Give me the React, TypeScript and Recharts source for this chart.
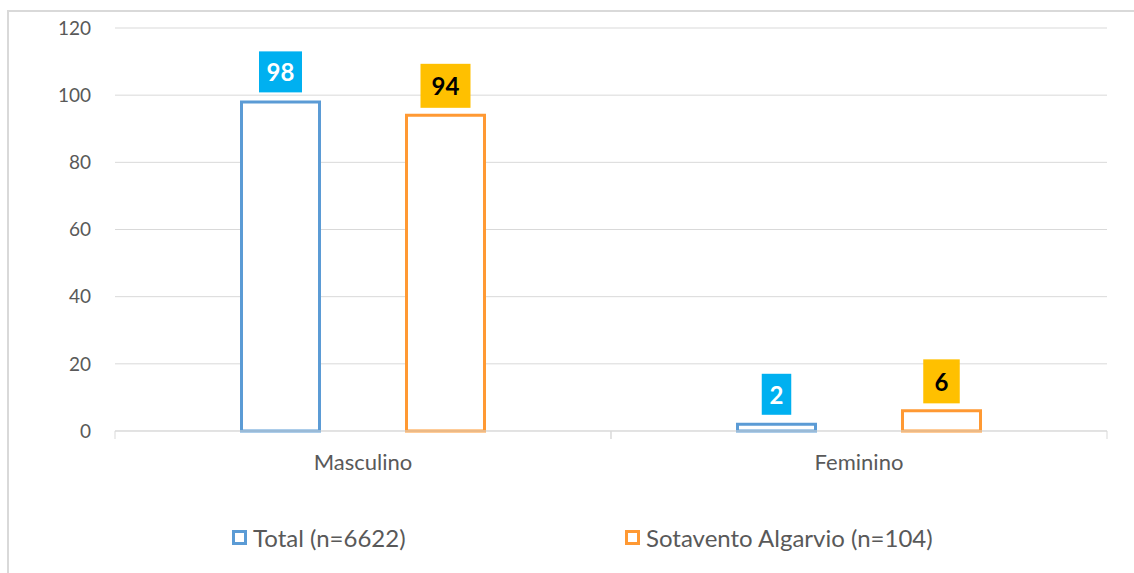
import { Bar, BarChart, CartesianGrid, LabelList, Legend, XAxis, YAxis } from "recharts";

const CATEGORIES = ["Masculino", "Feminino"];
const TOTAL_VALUES = [98, 2];
const SOTAVENTO_VALUES = [94, 6];
const Y_TICKS = [0, 20, 40, 60, 80, 100, 120];

const SERIES = [
  { key: "total", name: "Total (n=6622)", stroke: "#5B9BD5", labelBg: "#00B0F0", labelColor: "#FFFFFF", pad: 8, boxH: 41, gap: 8 },
  { key: "sotavento", name: "Sotavento Algarvio (n=104)", stroke: "#FF9933", labelBg: "#FFC000", labelColor: "#000000", pad: 11.5, boxH: 44, gap: 6 },
];

const data = CATEGORIES.map((cat, i) => ({
  cat,
  total: TOTAL_VALUES[i],
  sotavento: SOTAVENTO_VALUES[i],
}));

const FONT = "Lato, 'Open Sans', sans-serif";
const TEXT_COLOR = "#595959";
const GRID_COLOR = "#D9D9D9";

function makeLabel(s: (typeof SERIES)[number]) {
  return (props: any) => {
    const { x, y, width, value } = props;
    const text = String(value);
    const textW = text.length * 13.5;
    const boxW = textW + s.pad * 2;
    const cx = x + width / 2;
    const bottom = y - 1.5 - s.gap;
    return (
      <g>
        <rect x={cx - boxW / 2} y={bottom - s.boxH} width={boxW} height={s.boxH} fill={s.labelBg} />
        <text
          x={cx}
          y={bottom - s.boxH / 2}
          textAnchor="middle"
          dominantBaseline="central"
          fontFamily={FONT}
          fontWeight={700}
          fontSize={24}
          fill={s.labelColor}
        >
          {text}
        </text>
      </g>
    );
  };
}

function CategoryTick(props: any) {
  const { x, y, payload } = props;
  const half = payload.offset ?? 248;
  return (
    <g>
      <line x1={x - half} y1={y} x2={x - half} y2={y + 8} stroke={GRID_COLOR} />
      <line x1={x + half} y1={y} x2={x + half} y2={y + 8} stroke={GRID_COLOR} />
      <text x={x} y={y + 30} textAnchor="middle" dominantBaseline="central" fontFamily={FONT} fontSize={22} fill={TEXT_COLOR}>
        {payload.value}
      </text>
    </g>
  );
}

function LegendContent() {
  return (
    <div style={{ position: "relative", height: 40, fontFamily: FONT, fontSize: 24, color: TEXT_COLOR }}>
      {SERIES.map((s, i) => (
        <div
          key={s.key}
          style={{ position: "absolute", left: i === 0 ? 223 : 616, top: 0, height: 40, display: "flex", alignItems: "center" }}
        >
          <span
            style={{ display: "inline-block", width: 9, height: 9, border: `3px solid ${s.stroke}`, marginRight: 6 }}
          />
          {s.name}
        </div>
      ))}
    </div>
  );
}

export default function App() {
  return (
    <div
      style={{
        position: "absolute",
        left: 7,
        top: 10,
        width: 1150,
        height: 580,
        border: `2px solid ${GRID_COLOR}`,
        background: "#fff",
      }}
    >
      <BarChart
        width={1140}
        height={575}
        data={data}
        margin={{ top: 16, right: 42, left: 0, bottom: 30 }}
        barCategoryGap={126.5}
        barGap={87}
      >
        <CartesianGrid vertical={false} stroke={GRID_COLOR} />
        <XAxis
          dataKey="cat"
          height={86}
          axisLine={{ stroke: GRID_COLOR }}
          tickLine={false}
          tickSize={0}
          tickMargin={0}
          tick={<CategoryTick />}
        />
        <YAxis
          width={106}
          domain={[0, 120]}
          ticks={Y_TICKS}
          axisLine={false}
          tickLine={false}
          tickSize={0}
          tickMargin={24}
          tick={{ fontFamily: FONT, fontSize: 19, fill: TEXT_COLOR }}
        />
        <Legend verticalAlign="bottom" content={<LegendContent />} wrapperStyle={{ width: 1140, left: 0 }} />
        {SERIES.map((s) => (
          <Bar
            key={s.key}
            dataKey={s.key}
            name={s.name}
            fill="#FFFFFF"
            stroke={s.stroke}
            strokeWidth={3}
            isAnimationActive={false}
          >
            <LabelList dataKey={s.key} content={makeLabel(s)} />
          </Bar>
        ))}
      </BarChart>
    </div>
  );
}
